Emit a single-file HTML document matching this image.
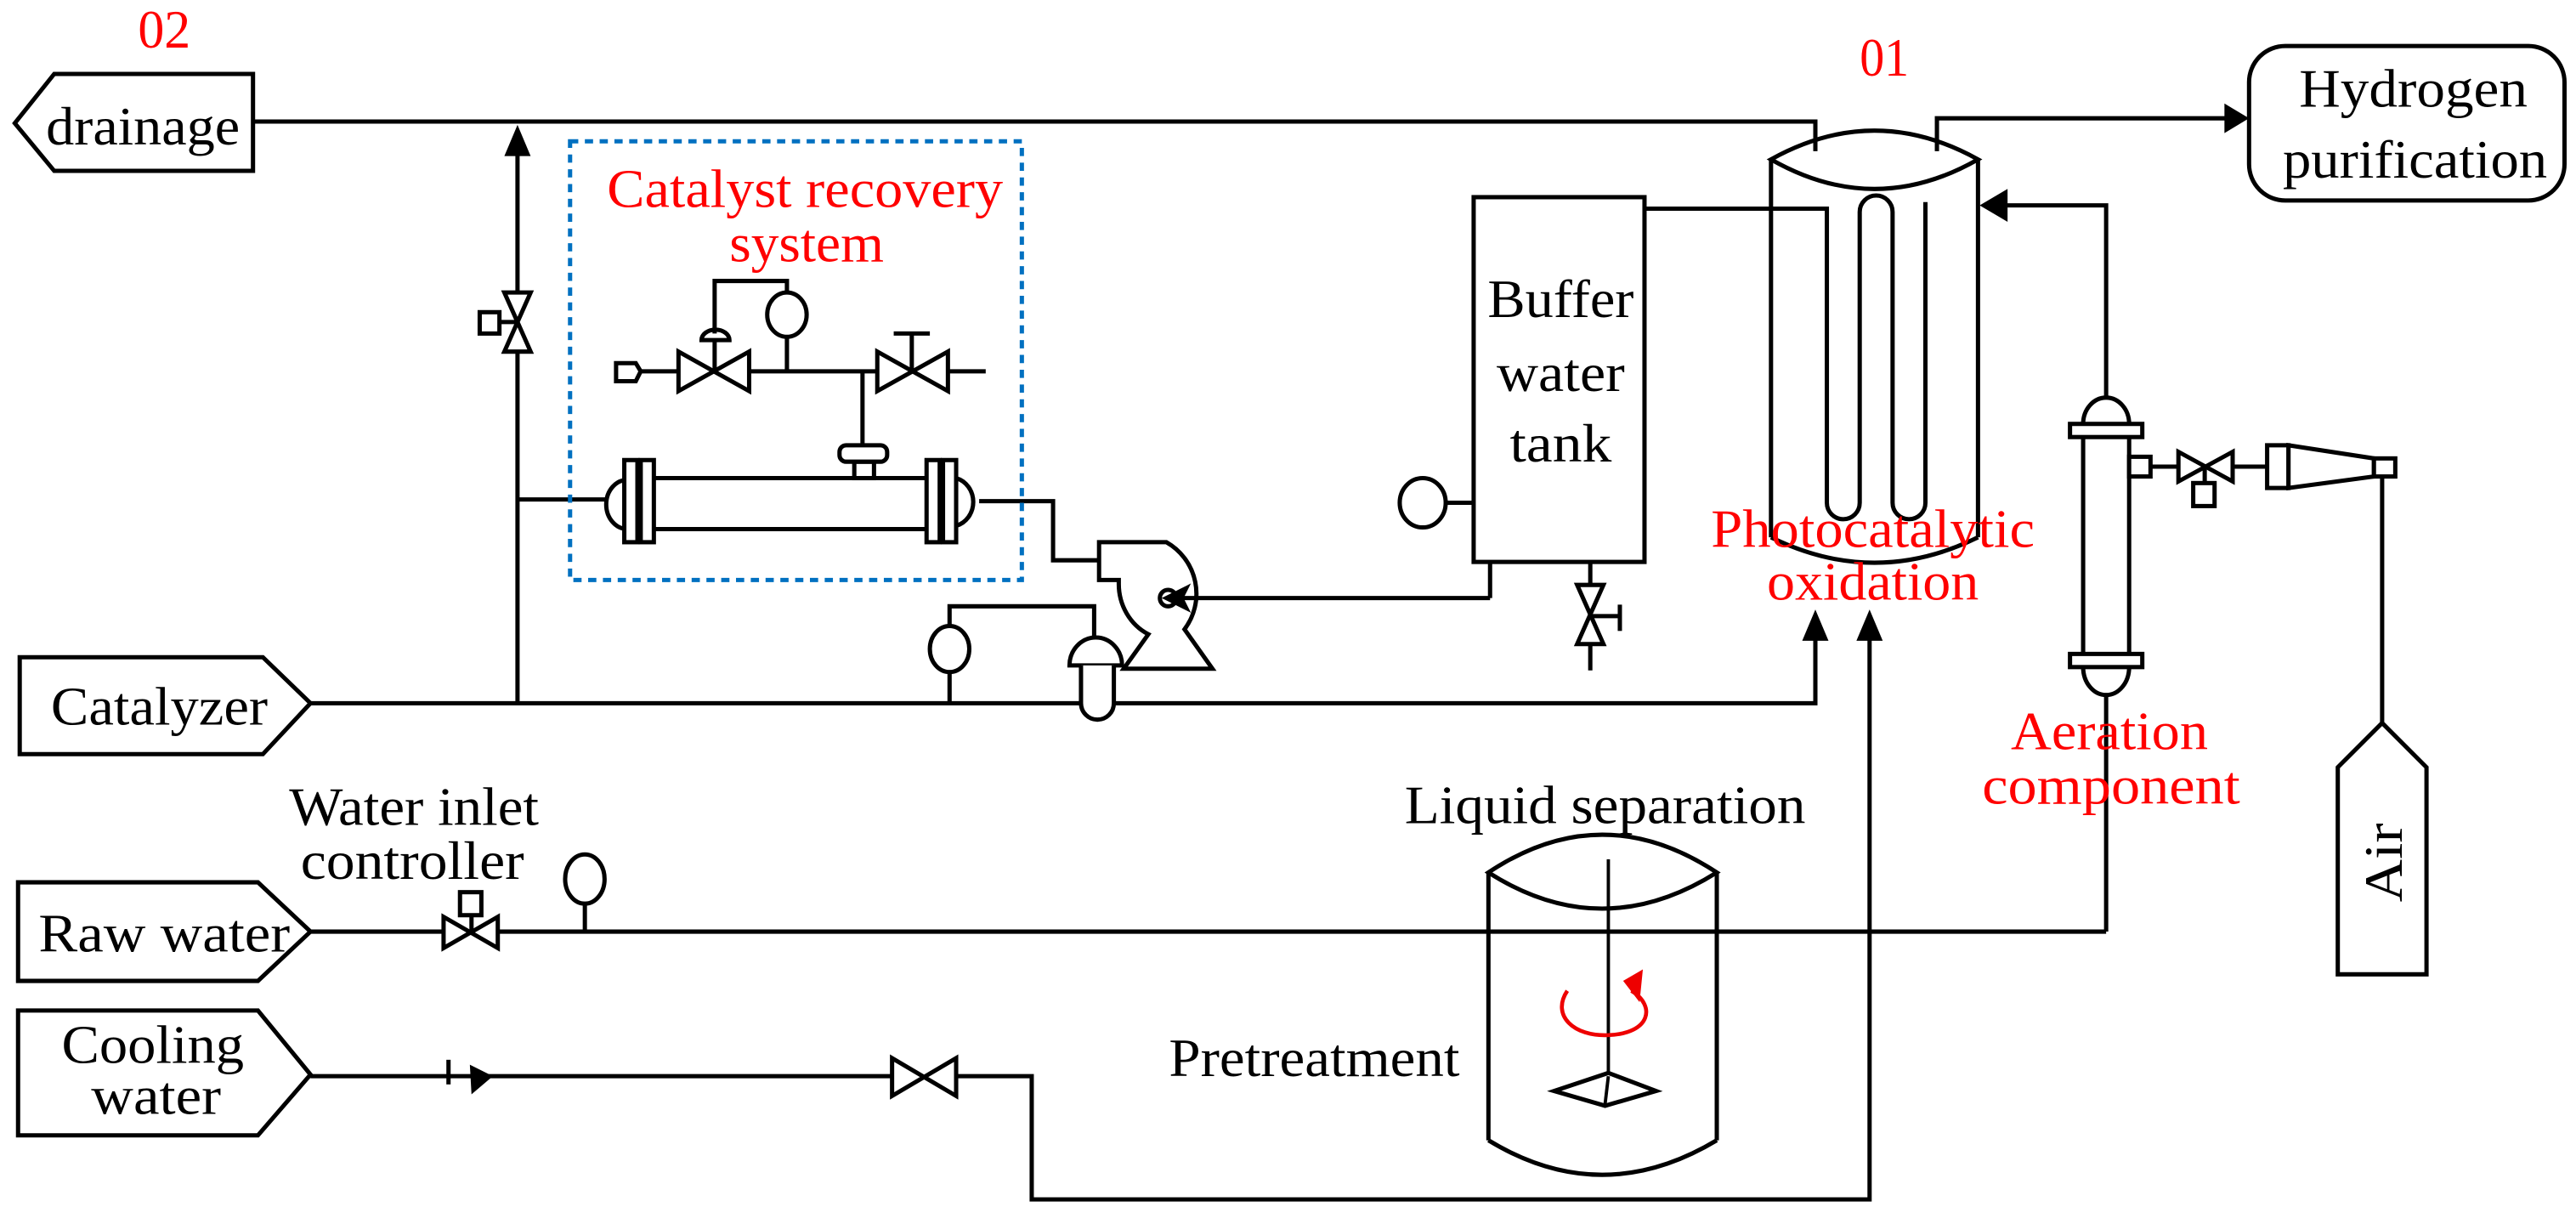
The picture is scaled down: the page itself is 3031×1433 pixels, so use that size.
<!DOCTYPE html>
<html><head><meta charset="utf-8"><style>
html,body{margin:0;padding:0;background:#fff;}
svg{display:block;}
text{font-family:"Liberation Serif",serif;}
</style></head><body>
<svg width="3031" height="1433" viewBox="0 0 1568 741.3" preserveAspectRatio="none" xmlns="http://www.w3.org/2000/svg">
<g fill="none" stroke="#000" stroke-width="2.6" stroke-linejoin="miter">
<!-- drainage box -->
<polygon points="9,75 33,45 154,45 154,104 33,104"/>
<!-- catalyzer box -->
<polygon points="12,400 160,400 189,428 160,459 12,459"/>
<!-- raw water -->
<polygon points="11,537 157,537 189,567 157,597 11,597"/>
<!-- cooling water -->
<polygon points="11,615 157,615 189,654 157,691 11,691"/>
<!-- hydrogen -->
<rect x="1369" y="28" width="192" height="94" rx="22"/>
<!-- top line -->
<polyline points="154,74 1105,74 1105,92"/>
<polyline points="1179,92 1179,72 1356,72"/>
<!-- vertical left line -->
<line x1="315" y1="90" x2="315" y2="428"/>
<line x1="315" y1="304" x2="369" y2="304"/>
<!-- catalyzer line -->
<polyline points="189,428 1105,428 1105,388"/>
<!-- valve vertical on left line -->
<polygon points="307,178 323,178 307,214 323,214" fill="#fff"/>
<line x1="305" y1="196" x2="315" y2="196"/>
<rect x="292" y="190" width="12" height="13" fill="#fff"/>
<!-- heat exchanger -->
<path d="M382,292 A13,15 0 0 0 382,322"/>
<rect x="380" y="280" width="8" height="50" fill="#fff"/>
<rect x="390" y="280" width="8" height="50" fill="#fff"/>
<line x1="398" y1="291" x2="564" y2="291"/>
<line x1="398" y1="322" x2="564" y2="322"/>
<rect x="564" y="280" width="8" height="50" fill="#fff"/>
<rect x="574" y="280" width="8" height="50" fill="#fff"/>
<path d="M582,291 A14,15 0 0 1 582,320"/>
<rect x="520" y="281" width="12" height="10"/>
<rect x="511" y="271" width="29" height="10" rx="4" fill="#fff"/>
<line x1="525" y1="226" x2="525" y2="271"/>
<!-- upper control line -->
<line x1="390" y1="226" x2="600" y2="226"/>
<polygon points="375,221 387,221 390,226 387,232 375,232" fill="#fff"/>
<polygon points="413,214 413,238 456,214 456,238" fill="#fff"/>
<line x1="435" y1="226" x2="435" y2="207"/>
<path d="M427,207 A8,6 0 0 1 444,207 Z" fill="#fff"/>
<polyline points="435,203 435,171 479,171 479,178"/>
<ellipse cx="479" cy="191.5" rx="12" ry="13.5" fill="#fff"/>
<line x1="479" y1="205" x2="479" y2="226"/>
<polygon points="534,214 534,238 577,214 577,238" fill="#fff"/>
<line x1="555" y1="226" x2="555" y2="203"/>
<line x1="544" y1="203" x2="566" y2="203"/>
<!-- HX to pump -->
<polyline points="596,305 641,305 641,341 669,341"/>
<!-- pump -->
<path d="M669,353 L669,330 L710,330 A36,36 0 0 1 721,383 L738,407 L684,407 L699,386 A32,34 0 0 1 681,355 L681,353 Z" fill="#fff"/>
<ellipse cx="711" cy="364" rx="5" ry="5"/>
<line x1="716" y1="364" x2="907" y2="364"/>
<polygon points="710,364 722,358 719,364 722,370" fill="#000"/>
<polyline points="907,364 907,342"/>
<!-- gauge and diaphragm valve -->
<line x1="578" y1="409" x2="578" y2="428"/>
<ellipse cx="578" cy="395" rx="12" ry="14" fill="#fff"/>
<polyline points="578,381 578,369 666,369 666,388"/>
<path d="M651,405 A16,17 0 0 1 683,405 Z" fill="#fff"/>
<path d="M658,405 L658,428 A10,10 0 0 0 678,428 L678,405" fill="#fff"/>
<!-- buffer tank -->
<rect x="897" y="120" width="104" height="222" fill="#fff"/>
<line x1="880" y1="306" x2="897" y2="306"/>
<ellipse cx="866" cy="306" rx="14" ry="15" fill="#fff"/>
<line x1="968" y1="342" x2="968" y2="408"/>
<polygon points="960,356 976,356 960,392 976,392" fill="#fff"/>
<line x1="968" y1="375" x2="986" y2="375"/>
<line x1="986" y1="368" x2="986" y2="384"/>
<!-- reactor -->
<path d="M1078,97 Q1141,62 1204,97 Q1141,133 1078,97 Z"/>
<line x1="1078" y1="97" x2="1078" y2="327"/>
<line x1="1204" y1="97" x2="1204" y2="327"/>
<path d="M1078,327 Q1141,358 1204,327"/>
<path d="M1001,127 L1112,127 L1112,306 A10,10 0 0 0 1132,306 L1132,129 A10,10 0 0 1 1152,129 L1152,306 A10,10 0 0 0 1172,306 L1172,123"/>
<!-- arrow into reactor right -->
<polyline points="1220,125 1282,125 1282,242"/>
<!-- aeration column -->
<path d="M1268,258 A14,16 0 0 1 1296,258"/>
<rect x="1260" y="258" width="44" height="8" fill="#fff"/>
<line x1="1268" y1="266" x2="1268" y2="398"/>
<line x1="1296" y1="266" x2="1296" y2="398"/>
<rect x="1260" y="398" width="44" height="8" fill="#fff"/>
<path d="M1268,406 A14,17 0 0 0 1296,406"/>
<rect x="1296" y="278" width="13" height="12" fill="#fff"/>
<line x1="1309" y1="284" x2="1380" y2="284"/>
<polygon points="1326,275 1326,293 1359,275 1359,293" fill="#fff"/>
<line x1="1342" y1="284" x2="1342" y2="294"/>
<rect x="1335" y="294" width="13" height="14" fill="#fff"/>
<rect x="1380" y="271" width="13" height="26" fill="#fff"/>
<polygon points="1393,271 1445,279 1445,290 1393,297" fill="#fff"/>
<rect x="1445" y="279" width="13" height="11" fill="#fff"/>
<line x1="1450" y1="290" x2="1450" y2="440"/>
<polygon points="1450,440 1477,467 1477,593 1423,593 1423,467" fill="#fff"/>
<line x1="1282" y1="423" x2="1282" y2="567"/>
<!-- raw water line -->
<line x1="189" y1="567" x2="1282" y2="567"/>
<polygon points="270,558 270,577 303,558 303,577" fill="#fff"/>
<line x1="287" y1="557" x2="287" y2="567"/>
<rect x="280" y="543" width="13" height="14" fill="#fff"/>
<line x1="356" y1="550" x2="356" y2="567"/>
<ellipse cx="356" cy="535" rx="12" ry="15" fill="#fff"/>
<!-- cooling line -->
<line x1="189" y1="655" x2="273" y2="655"/>
<line x1="273" y1="645" x2="273" y2="660"/>
<line x1="273" y1="655" x2="543" y2="655"/>
<polygon points="543,644 543,667 582,644 582,667" fill="#fff"/>
<polyline points="582,655 628,655 628,730 1138,730 1138,388"/>
<!-- liquid separation tank -->
<path d="M906,531 Q975,485 1045,531 Q975,575 906,531 Z" fill="#fff"/>
<line x1="906" y1="531" x2="906" y2="694"/>
<line x1="1045" y1="531" x2="1045" y2="694"/>
<path d="M906,694 Q975,736 1045,694"/>
<line x1="979" y1="523" x2="979" y2="655" stroke-width="2"/>
<polygon points="979,653 1008,664 977,673 946,664" fill="#fff"/>
<line x1="979" y1="655" x2="977" y2="672" stroke-width="2"/>
<!-- dashed box -->
<rect x="347" y="86" width="275" height="267" stroke="#0070C0" stroke-width="2.6" stroke-dasharray="5,4"/>
</g>
<!-- arrowheads -->
<g fill="#000">
<polygon points="315,76 307,95 323,95"/>
<polygon points="1369,72 1354,63 1354,81"/>
<polygon points="1205,125 1222,115 1222,135"/>
<polygon points="1105,371 1097,390 1113,390"/>
<polygon points="1138,371 1130,390 1146,390"/>
<polygon points="286,648 300,655 287,666" />
</g>
<!-- red rotation arrow -->
<path d="M954,603 C944,618 958,631 979,630 C1005,629 1008,612 993,603" fill="none" stroke="#e00" stroke-width="2.4"/>
<polygon points="988,597 1000,590 998,610" fill="#e00"/>
<g font-size="33" fill="#000">
<text x="87" y="88" text-anchor="middle" textLength="118" lengthAdjust="spacingAndGlyphs">drainage</text>
<text x="97" y="441" text-anchor="middle" textLength="132" lengthAdjust="spacingAndGlyphs">Catalyzer</text>
<text x="100" y="579" text-anchor="middle" textLength="153" lengthAdjust="spacingAndGlyphs">Raw water</text>
<text x="93" y="647" text-anchor="middle" textLength="111" lengthAdjust="spacingAndGlyphs">Cooling</text>
<text x="95" y="678" text-anchor="middle" textLength="79" lengthAdjust="spacingAndGlyphs">water</text>
<text x="252" y="502" text-anchor="middle" textLength="152" lengthAdjust="spacingAndGlyphs">Water inlet</text>
<text x="251" y="535" text-anchor="middle" textLength="136" lengthAdjust="spacingAndGlyphs">controller</text>
<text x="977" y="501" text-anchor="middle" textLength="244" lengthAdjust="spacingAndGlyphs">Liquid separation</text>
<text x="800" y="655" text-anchor="middle" textLength="177" lengthAdjust="spacingAndGlyphs">Pretreatment</text>
<text x="950" y="193" text-anchor="middle" textLength="89" lengthAdjust="spacingAndGlyphs">Buffer</text>
<text x="950" y="238" text-anchor="middle" textLength="78" lengthAdjust="spacingAndGlyphs">water</text>
<text x="950" y="281" text-anchor="middle" textLength="62" lengthAdjust="spacingAndGlyphs">tank</text>
<text x="1469" y="65" text-anchor="middle" textLength="139" lengthAdjust="spacingAndGlyphs">Hydrogen</text>
<text x="1470" y="108" text-anchor="middle" textLength="161" lengthAdjust="spacingAndGlyphs">purification</text>
<text transform="translate(1462,525) rotate(-90)" text-anchor="middle" textLength="48" lengthAdjust="spacingAndGlyphs">Air</text>
</g>
<g font-size="33" fill="#f00">
<text x="100" y="29" text-anchor="middle" textLength="32" lengthAdjust="spacingAndGlyphs">02</text>
<text x="1147" y="46" text-anchor="middle" textLength="30" lengthAdjust="spacingAndGlyphs">01</text>
<text x="490" y="126" text-anchor="middle" textLength="241" lengthAdjust="spacingAndGlyphs">Catalyst recovery</text>
<text x="491" y="159" text-anchor="middle" textLength="94" lengthAdjust="spacingAndGlyphs">system</text>
<text x="1140" y="333" text-anchor="middle" textLength="197" lengthAdjust="spacingAndGlyphs">Photocatalytic</text>
<text x="1140" y="365" text-anchor="middle" textLength="129" lengthAdjust="spacingAndGlyphs">oxidation</text>
<text x="1284" y="456" text-anchor="middle" textLength="120" lengthAdjust="spacingAndGlyphs">Aeration</text>
<text x="1285" y="489" text-anchor="middle" textLength="157" lengthAdjust="spacingAndGlyphs">component</text>
</g>
</svg>
</body></html>
